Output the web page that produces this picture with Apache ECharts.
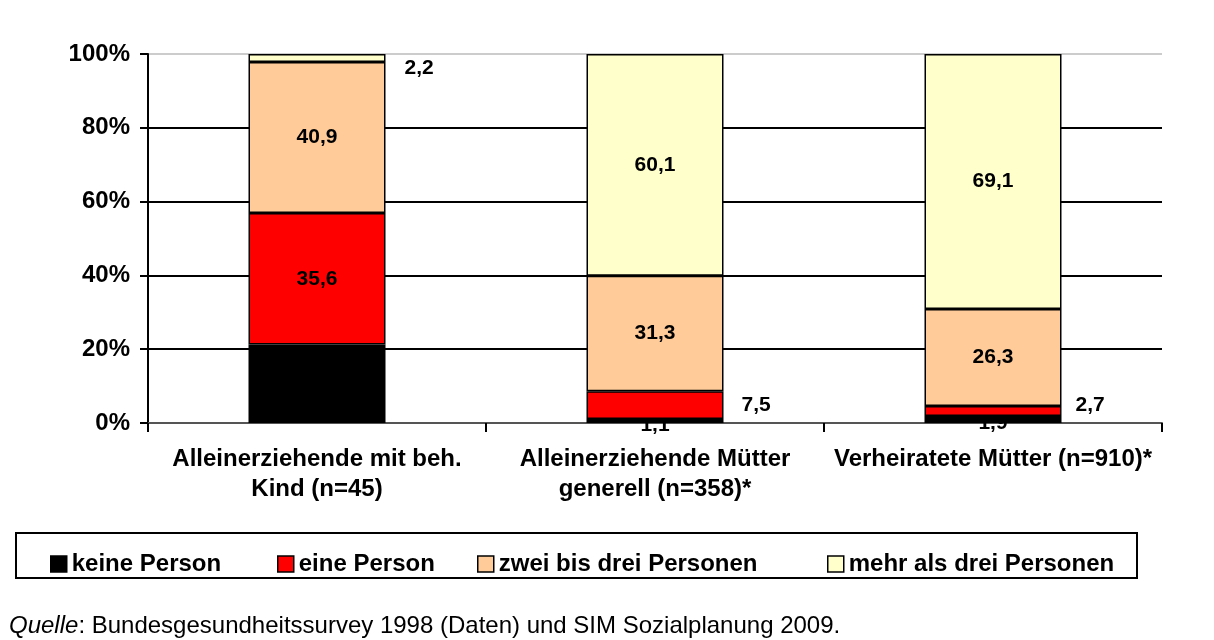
<!DOCTYPE html>
<html>
<head>
<meta charset="utf-8">
<style>
  html, body { margin: 0; padding: 0; background: #fff; }
  #chart { width: 1214px; height: 640px; }
</style>
<script src="https://cdn.jsdelivr.net/npm/echarts@6/dist/echarts.min.js"></script>
</head>
<body>
<div id="chart"></div>
<script>
// Daten (Prozent)
const categories = ['Alleinerziehende mit beh.\nKind (n=45)', 'Alleinerziehende Mütter\ngenerell (n=358)*', 'Verheiratete Mütter (n=910)*']
const seriesNames = ['keine Person', 'eine Person', 'zwei bis drei Personen', 'mehr als drei Personen']
const keinePerson = [21.3, 1.1, 1.9]
const einePerson = [35.6, 7.5, 2.7]
const zweiBisDrei = [40.9, 31.3, 26.3]
const mehrAlsDrei = [2.2, 60.1, 69.1]
const yTicks = [0, 20, 40, 60, 80, 100]

const colors = ['#000000', '#ff0000', '#ffcc99', '#ffffcc']
const font = 'Liberation Sans, Arial, sans-serif'

// kleine Segmente: Beschriftung rechts neben dem Balken
const outside = {
  '3-0': { position: 'right', distance: 19, offset: [0, 10] },
  '1-1': { position: 'right', distance: 18, offset: [0, 0] },
  '1-2': { position: 'right', distance: 14, offset: [0, -6] },
  '0-1': { position: 'inside', offset: [0, 4] },
  '0-2': { position: 'inside', offset: [0, 4] }
}

function fmt(v) {
  return String(v).replace('.', ',')
}

const allData = [keinePerson, einePerson, zweiBisDrei, mehrAlsDrei]

const series = allData.map((vals, s) => ({
  name: seriesNames[s],
  type: 'bar',
  stack: 'total',
  barWidth: 137,
  // "keine Person" liegt unten, damit die roten Balken die Zahl teilweise verdecken
  z: s === 0 ? 1 : 2,
  itemStyle: { color: colors[s], borderColor: '#000', borderWidth: 1.5 },
  label: {
    show: true,
    position: 'inside',
    color: '#000',
    fontFamily: font,
    fontWeight: 'bold',
    fontSize: 21,
    formatter: p => fmt(p.value)
  },
  data: vals.map((v, i) => {
    const o = outside[s + '-' + i]
    if (!o) return v
    return { value: v, label: o }
  })
}))

// eine Legende pro Eintrag, damit die Abstände wie im Original sind
const legends = seriesNames.map((n, i) => ({
  data: [n],
  left: [45, 272, 472, 822][i],
  top: 547,
  itemWidth: 16,
  itemHeight: 16,
  icon: 'rect',
  itemStyle: { borderColor: '#000', borderWidth: 1.5 },
  textStyle: { fontFamily: font, fontWeight: 'bold', fontSize: 24, color: '#000' },
  selectedMode: false
}))

const chart = echarts.init(document.getElementById('chart'))
chart.setOption({
  animation: false,
  grid: { left: 148, right: 52, top: 54, bottom: 217 },
  xAxis: {
    type: 'category',
    data: categories,
    axisLine: { lineStyle: { color: '#555', width: 2 } },
    axisTick: { show: true, length: 9, lineStyle: { color: '#000', width: 2 } },
    axisLabel: {
      interval: 0,
      hideOverlap: false,
      color: '#000',
      fontFamily: font,
      fontWeight: 'bold',
      fontSize: 24,
      lineHeight: 30,
      margin: 21
    }
  },
  yAxis: {
    type: 'value',
    min: yTicks[0],
    max: yTicks[yTicks.length - 1],
    interval: 20,
    axisLine: { show: true, lineStyle: { color: '#000', width: 2 } },
    axisTick: { show: true, length: 8, lineStyle: { color: '#000', width: 2 } },
    axisLabel: {
      color: '#000',
      fontFamily: font,
      fontWeight: 'bold',
      fontSize: 24,
      margin: 18,
      formatter: '{value}%'
    },
    splitLine: {
      lineStyle: { color: ['#000', '#000', '#000', '#000', '#000', '#cccccc'], width: 2 }
    }
  },
  legend: legends,
  graphic: [
    {
      type: 'rect',
      shape: { x: 16, y: 533, width: 1121, height: 45 },
      style: { fill: 'none', stroke: '#000', lineWidth: 2 },
      silent: true
    },
    {
      type: 'text',
      left: 9,
      top: 614,
      style: {
        text: '{i|Quelle}{n|: Bundesgesundheitssurvey 1998 (Daten) und SIM Sozialplanung 2009.}',
        rich: {
          i: { fontFamily: font, fontSize: 24, fontStyle: 'italic', fill: '#000' },
          n: { fontFamily: font, fontSize: 24, fill: '#000' }
        }
      }
    }
  ],
  series: series
})
</script>
</body>
</html>
